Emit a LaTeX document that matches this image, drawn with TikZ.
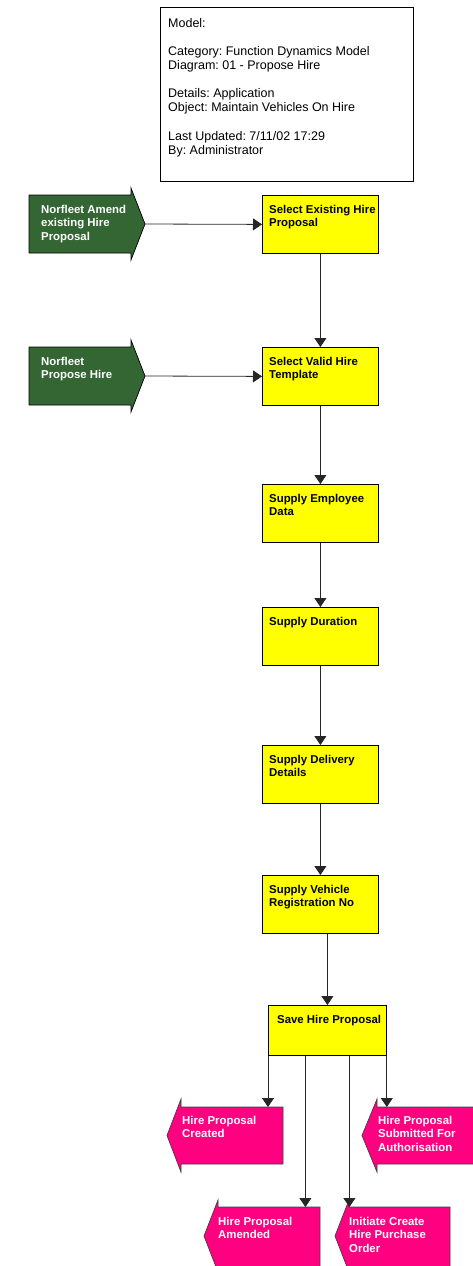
\documentclass[tikz,border=0pt]{standalone}
\usepackage{fontspec}
\setmainfont{Liberation Sans}
\usetikzlibrary{arrows.meta}
\frenchspacing

\definecolor{flaggreen}{HTML}{336633}
\definecolor{flagpink}{HTML}{FF0080}
\definecolor{taskyellow}{HTML}{FFFF00}

\begin{document}
\begin{tikzpicture}[x=1pt, y=-1pt,
    task/.style={draw=black, fill=taskyellow, line width=0.8pt, anchor=north west,
                 inner sep=0pt, minimum width=116pt, minimum height=58pt},
    tasktext/.style={anchor=north west, inner sep=0pt, xshift=7pt, yshift=-10pt, align=left,
                     font=\bfseries\fontsize{11.4}{13.5}\selectfont},
    flagtext/.style={anchor=north west, inner xsep=0pt, inner ysep=9pt, align=left, text=white,
                     font=\bfseries\fontsize{11.4}{13.5}\selectfont},
    greenflag/.style={draw=black, fill=flaggreen, line width=0.7pt},
    pinkflag/.style={draw=black!75, fill=flagpink, line width=0.7pt},
    flow/.style={draw=black!85, line width=0.8pt, -{Triangle[length=9pt, width=12pt]}}
]
\useasboundingbox (0,0) rectangle (473,1266);

% header box
\node[draw=black, line width=0.8pt, anchor=north west, inner sep=0pt,
      minimum width=253pt, minimum height=174pt] (info) at (160,7) {};
\node[anchor=north west, inner sep=0pt, align=left, font=\fontsize{12.5}{14.1}\selectfont]
      (info-t) at (168,18) {Model:\\[14.1pt]
      Category: Function Dynamics Model\\
      Diagram: 01 - Propose Hire\\[14.1pt]
      Details: Application\\
      Object: Maintain Vehicles On Hire\\[14.1pt]
      Last Updated: 7/11/02 17:29\\
      By: Administrator};

% trigger flags
\draw[greenflag] (29,195) -- (131,195) -- (131,188) -- (145,224) -- (131,260) -- (131,253) -- (29,253) -- cycle;
\draw[greenflag] (29,347) -- (131,347) -- (131,340) -- (145,376) -- (131,412) -- (131,405) -- (29,405) -- cycle;
\coordinate (amendtip) at (145,224);
\coordinate (proposetip) at (145,376);
\node[flagtext, inner ysep=10pt] (amend-t) at (41,195) {Norfleet Amend\\existing Hire\\Proposal};
\node[flagtext, inner ysep=10pt] (propose-t) at (41,347) {Norfleet\\Propose Hire};

% result flags
\draw[pinkflag] (283,1107) -- (181,1107) -- (181,1099) -- (167,1135.5) -- (181,1172) -- (181,1164) -- (283,1164) -- cycle;
\draw[pinkflag] (480,1107) -- (377,1107) -- (377,1099) -- (362,1135.5) -- (377,1172) -- (377,1164) -- (480,1164) -- cycle;
\draw[pinkflag] (320,1207) -- (218,1207) -- (218,1200) -- (204,1236) -- (218,1272) -- (218,1280) -- (320,1280) -- cycle;
\draw[pinkflag] (450,1207) -- (349,1207) -- (349,1200) -- (335,1236) -- (349,1272) -- (349,1280) -- (450,1280) -- cycle;
\node[flagtext] (created-t) at (182,1107) {Hire Proposal\\Created};
\node[flagtext] (submitted-t) at (378,1107) {Hire Proposal\\Submitted For\\Authorisation};
\node[flagtext, inner ysep=10pt] (amended-t) at (218,1207) {Hire Proposal\\Amended};
\node[flagtext, inner ysep=10pt] (initiate-t) at (349,1207) {Initiate Create\\Hire Purchase\\Order};

% process steps
\node[task] (selexist) at (262,195) {};
\node[tasktext] (selexist-t) at (selexist.north west) {Select Existing Hire\\Proposal};
\node[task] (seltemp) at (262,347) {};
\node[tasktext] (seltemp-t) at (seltemp.north west) {Select Valid Hire\\Template};
\node[task] (supemp) at (262,484) {};
\node[tasktext] (supemp-t) at (supemp.north west) {Supply Employee\\Data};
\node[task] (supdur) at (262,607) {};
\node[tasktext] (supdur-t) at (supdur.north west) {Supply Duration};
\node[task] (supdel) at (262,745) {};
\node[tasktext] (supdel-t) at (supdel.north west) {Supply Delivery\\Details};
\node[task] (supveh) at (262,875) {};
\node[tasktext] (supveh-t) at (supveh.north west) {Supply Vehicle\\Registration No};
\node[task, minimum width=118pt, minimum height=50pt] (save) at (268,1005) {};
\node[tasktext, xshift=2pt] (save-t) at (save.north west) {Save Hire Proposal};

% connectors
\draw[flow] (amendtip) -- (selexist.west);
\draw[flow] (proposetip) -- (seltemp.west);
\draw[flow] (selexist) -- (seltemp);
\draw[flow] (seltemp) -- (supemp);
\draw[flow] (supemp) -- (supdur);
\draw[flow] (supdur) -- (supdel);
\draw[flow] (supdel) -- (supveh);
\draw[flow] (supveh.south -| save.north) -- (save.north);
\draw[flow] (save.south west) -- (save.south west |- created-t.north);
\draw[flow] ([xshift=-22pt]save.south) -- ([xshift=-22pt]save.south |- amended-t.north);
\draw[flow] ([xshift=22pt]save.south) -- ([xshift=22pt]save.south |- initiate-t.north);
\draw[flow] (save.south east) -- (save.south east |- submitted-t.north);
\end{tikzpicture}
\end{document}
